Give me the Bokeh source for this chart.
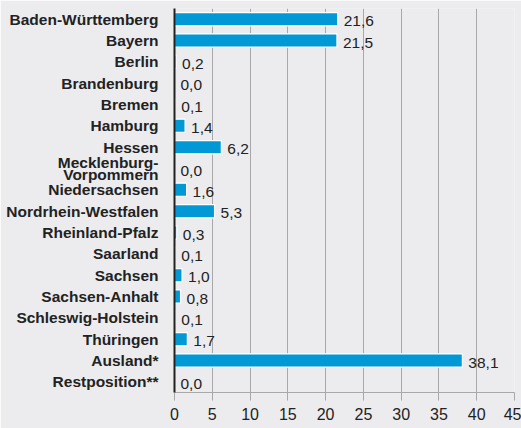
from bokeh.plotting import figure
from bokeh.models import ColumnDataSource, FactorRange, Range1d, FixedTicker
from bokeh.core.properties import value
from bokeh.embed import file_html
from bokeh.resources import INLINE

regions = ["Baden-Württemberg", "Bayern", "Berlin", "Brandenburg", "Bremen",
           "Hamburg", "Hessen", "Mecklenburg-\nVorpommern", "Niedersachsen",
           "Nordrhein-Westfalen", "Rheinland-Pfalz", "Saarland", "Sachsen",
           "Sachsen-Anhalt", "Schleswig-Holstein", "Thüringen", "Ausland*",
           "Restposition**"]
shares = [21.6, 21.5, 0.2, 0.0, 0.1, 1.4, 6.2, 0.0, 1.6, 5.3, 0.3, 0.1, 1.0,
          0.8, 0.1, 1.7, 38.1, 0.0]
share_labels = ["21,6", "21,5", "0,2", "0,0", "0,1", "1,4", "6,2", "0,0", "1,6",
                "5,3", "0,3", "0,1", "1,0", "0,8", "0,1", "1,7", "38,1", "0,0"]
x_ticks = [0, 5, 10, 15, 20, 25, 30, 35, 40, 45]

BG = "#ececee"
BLUE = "#0099d5"

src = ColumnDataSource(dict(region=regions, share=shares, label=share_labels))

p = figure(width=521, height=428, output_backend="svg", toolbar_location=None,
           y_range=FactorRange(*list(reversed(regions)), range_padding=0),
           x_range=Range1d(0, 45),
           min_border_left=174, min_border_right=7, min_border_top=8,
           min_border_bottom=36)
p.background_fill_color = BG
p.border_fill_color = BG
p.outline_line_color = None

p.hbar(y="region", right="share", left=0, height=0.62, source=src,
       fill_color=BLUE, line_color="white", line_width=1.2)

p.text(x="share", y="region", text="label", source=src, x_offset=6, y_offset=2,
       text_baseline="middle", text_align="left", text_font_size="15.5px",
       text_font=value("Liberation Sans"), text_color="#222222")

p.xgrid.grid_line_color = "#a8a8a8"
p.xgrid.grid_line_width = 1
p.ygrid.grid_line_color = None

p.xaxis.ticker = FixedTicker(ticks=x_ticks)
p.xaxis.axis_line_color = "#a8a8a8"
p.xaxis.major_tick_line_color = "#a8a8a8"
p.xaxis.major_tick_out = 8
p.xaxis.major_tick_in = 0
p.xaxis.minor_tick_line_color = None
p.xaxis.major_label_text_font = "Liberation Sans"
p.xaxis.major_label_text_font_size = "16px"
p.xaxis.major_label_text_color = "#222222"
p.xaxis.major_label_standoff = 7

p.yaxis.axis_line_color = "#222222"
p.yaxis.axis_line_width = 2
p.yaxis.major_tick_line_color = None
p.yaxis.minor_tick_line_color = None
p.yaxis.major_label_text_font = "Liberation Sans"
p.yaxis.major_label_text_font_style = "bold"
p.yaxis.major_label_text_font_size = "15.5px"
p.yaxis.major_label_text_color = "#222222"
p.yaxis.major_label_text_line_height = 0.72
p.yaxis.major_label_standoff = 10

html = file_html(p, INLINE)
open("out.html", "w").write(html)
